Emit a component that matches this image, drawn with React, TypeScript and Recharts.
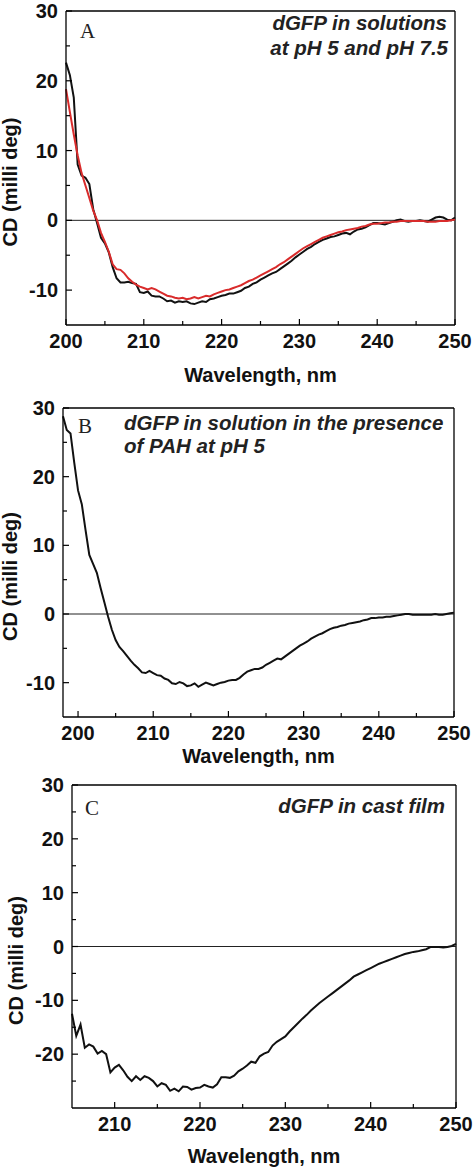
import React from 'react';
import { LineChart, Line, XAxis, YAxis, ReferenceLine, Label } from 'recharts';

// wavelengths (nm)
const wlA = [
  200, 200.5, 201, 201.5, 202, 202.5, 203, 203.5, 204, 204.5,
  205, 205.5, 206, 206.5, 207, 207.5, 208, 208.5, 209, 209.5,
  210, 210.5, 211, 211.5, 212, 212.5, 213, 213.5, 214, 214.5,
  215, 215.5, 216, 216.5, 217, 217.5, 218, 218.5, 219, 219.5,
  220, 220.5, 221, 221.5, 222, 222.5, 223, 223.5, 224, 224.5,
  225, 225.5, 226, 226.5, 227, 227.5, 228, 228.5, 229, 229.5,
  230, 230.5, 231, 231.5, 232, 232.5, 233, 233.5, 234, 234.5,
  235, 235.5, 236, 236.5, 237, 237.5, 238, 238.5, 239, 239.5,
  240, 240.5, 241, 241.5, 242, 242.5, 243, 243.5, 244, 244.5,
  245, 245.5, 246, 246.5, 247, 247.5, 248, 248.5, 249, 249.5,
  250,
];

// panel A, pH 5 (black)
const cdPH5 = [
  22.6, 20.8, 17.6, 8.0, 6.4, 6.1, 5.2, 1.6, -0.4, -2.5,
  -3.3, -4.6, -6.7, -8.3, -8.9, -8.9, -8.8, -9.0, -9.1, -10.3,
  -10.4, -10.2, -10.8, -10.9, -10.9, -11.2, -11.6, -11.5, -11.8, -11.6,
  -11.7, -11.6, -11.9, -12.0, -11.8, -11.6, -11.7, -11.3, -11.2, -11.0,
  -10.8, -10.7, -10.5, -10.5, -10.3, -10.1, -9.7, -9.5, -9.1, -8.9,
  -8.5, -8.2, -7.9, -7.6, -7.4, -7.0, -6.6, -6.2, -5.8, -5.3,
  -4.9, -4.5, -4.1, -3.8, -3.4, -3.1, -2.8, -2.6, -2.4, -2.3,
  -2.1, -1.9, -1.8, -2.0, -1.6, -1.3, -1.2, -1.0, -0.7, -0.4,
  -0.4, -0.5, -0.6, -0.4, -0.2, 0.0, 0.1, -0.1, -0.2, -0.1,
  -0.1, 0.0, -0.1, -0.2, 0.1, 0.4, 0.5, 0.4, 0.1, 0.0,
  0.4,
];

// panel A, pH 7.5 (red)
const cdPH75 = [
  18.8, 15.5, 12.3, 9.3, 6.8, 5.0, 3.2, 1.4, 0.0, -1.8,
  -3.1, -4.5, -6.3, -7.0, -7.1, -7.6, -8.3, -8.8, -9.2, -9.5,
  -9.7, -9.9, -9.7, -9.9, -10.2, -10.5, -10.8, -10.9, -11.1, -11.2,
  -11.1, -11.3, -11.2, -11.0, -11.2, -11.0, -10.8, -10.9, -10.6, -10.4,
  -10.2, -10.0, -9.9, -9.7, -9.5, -9.3, -9.0, -8.7, -8.5, -8.2,
  -7.9, -7.6, -7.3, -7.0, -6.7, -6.3, -6.0, -5.6, -5.2, -4.8,
  -4.4, -4.0, -3.7, -3.4, -3.1, -2.8, -2.5, -2.3, -2.1, -1.9,
  -1.7, -1.6, -1.4, -1.3, -1.2, -1.1, -0.9, -0.8, -0.6, -0.5,
  -0.5, -0.4, -0.3, -0.3, -0.2, -0.2, -0.1, -0.1, -0.1, -0.1,
  -0.1, -0.1, -0.1, -0.2, -0.2, -0.2, -0.1, -0.1, -0.1, 0.0,
  0.1,
];

const wlB = [
  198, 198.5, 199, 199.5,
  200, 200.5, 201, 201.5, 202, 202.5, 203, 203.5, 204, 204.5,
  205, 205.5, 206, 206.5, 207, 207.5, 208, 208.5, 209, 209.5,
  210, 210.5, 211, 211.5, 212, 212.5, 213, 213.5, 214, 214.5,
  215, 215.5, 216, 216.5, 217, 217.5, 218, 218.5, 219, 219.5,
  220, 220.5, 221, 221.5, 222, 222.5, 223, 223.5, 224, 224.5,
  225, 225.5, 226, 226.5, 227, 227.5, 228, 228.5, 229, 229.5,
  230, 230.5, 231, 231.5, 232, 232.5, 233, 233.5, 234, 234.5,
  235, 235.5, 236, 236.5, 237, 237.5, 238, 238.5, 239, 239.5,
  240, 240.5, 241, 241.5, 242, 242.5, 243, 243.5, 244, 244.5,
  245, 245.5, 246, 246.5, 247, 247.5, 248, 248.5, 249, 249.5,
  250,
];

// panel B, with PAH at pH 5
const cdPAH = [
  28.8, 26.8, 26.3, 22.0,
  18.0, 16.0, 12.2, 8.6, 7.3, 6.0, 3.8, 1.7, -0.4, -2.3,
  -3.8, -4.8, -5.4, -6.1, -6.8, -7.4, -7.9, -8.5, -8.6, -8.3,
  -8.6, -8.9, -9.0, -9.4, -9.6, -10.1, -10.2, -9.9, -10.1, -10.5,
  -10.4, -10.1, -10.6, -10.3, -10.0, -10.2, -10.4, -10.2, -10.0, -9.9,
  -9.7, -9.6, -9.6, -9.3, -8.8, -8.4, -8.2, -8.0, -8.0, -7.8,
  -7.4, -7.1, -6.8, -6.5, -6.6, -6.2, -5.8, -5.4, -5.0, -4.6,
  -4.3, -4.0, -3.6, -3.3, -3.0, -2.8, -2.5, -2.2, -2.0, -1.9,
  -1.7, -1.6, -1.4, -1.3, -1.2, -1.1, -0.9, -0.8, -0.6, -0.6,
  -0.5, -0.5, -0.4, -0.4, -0.3, -0.2, -0.1, 0.0, 0.0, -0.1,
  -0.1, -0.1, -0.1, -0.1, -0.1, 0.0, -0.1, -0.1, 0.0, 0.1,
  0.2,
];

const wlC = [
  205, 205.5, 206, 206.5, 207, 207.5, 208, 208.5, 209, 209.5,
  210, 210.5, 211, 211.5, 212, 212.5, 213, 213.5, 214, 214.5,
  215, 215.5, 216, 216.5, 217, 217.5, 218, 218.5, 219, 219.5,
  220, 220.5, 221, 221.5, 222, 222.5, 223, 223.5, 224, 224.5,
  225, 225.5, 226, 226.5, 227, 227.5, 228, 228.5, 229, 229.5,
  230, 230.5, 231, 231.5, 232, 232.5, 233, 233.5, 234, 234.5,
  235, 235.5, 236, 236.5, 237, 237.5, 238, 238.5, 239, 239.5,
  240, 240.5, 241, 241.5, 242, 242.5, 243, 243.5, 244, 244.5,
  245, 245.5, 246, 246.5, 247, 247.5, 248, 248.5, 249, 249.5,
  250,
];

// panel C, cast film
const cdFilm = [
  -12.5, -16.6, -14.5, -18.8, -18.2, -18.6, -19.9, -19.4, -20.0, -23.4,
  -22.5, -22.0, -23.0, -24.2, -25.0, -24.1, -24.8, -24.1, -24.4, -25.0,
  -26.0, -25.4, -25.7, -26.8, -26.4, -26.9, -26.0, -26.1, -26.6, -26.3,
  -26.2, -25.7, -26.0, -26.2, -25.6, -24.3, -24.3, -24.4, -24.0, -23.2,
  -22.7, -22.1, -21.4, -21.6, -20.4, -19.9, -19.6, -18.4, -17.7, -17.2,
  -16.7, -15.8, -15.0, -14.2, -13.4, -12.7, -11.9, -11.2, -10.5, -9.9,
  -9.3, -8.7, -8.1, -7.5, -6.9, -6.3, -5.6, -5.2, -4.8, -4.4,
  -4.0, -3.6, -3.2, -2.9, -2.6, -2.3, -2.0, -1.7, -1.4, -1.2,
  -1.0, -0.9, -0.7, -0.5, -0.1, -0.1, -0.1, -0.2, -0.1, 0.1,
  0.5,
];

const xTicksAB = [200, 205, 210, 215, 220, 225, 230, 235, 240, 245, 250];
const xTicksC = [210, 215, 220, 225, 230, 235, 240, 245, 250];
const yTicksAB = [-10, -5, 0, 5, 10, 15, 20, 25, 30];
const yTicksC = [-25, -20, -15, -10, -5, 0, 5, 10, 15, 20, 25, 30];

const FONT = '"Liberation Sans", Arial, sans-serif';
const SERIF = '"Liberation Serif", "Times New Roman", serif';

const dataA = wlA.map((wl, i) => ({ wl, ph5: cdPH5[i], ph75: cdPH75[i] }));
const dataB = wlB.map((wl, i) => ({ wl, cd: cdPAH[i] }));
const dataC = wlC.map((wl, i) => ({ wl, cd: cdFilm[i] }));

const XTick = ({ x, y, payload }: any) => {
  const major = payload.value % 10 === 0;
  return (
    <g>
      <line x1={x} x2={x} y1={y} y2={y - (major ? 6 : 4)} stroke="#000" strokeWidth={1.2} />
      {major && (
        <text x={x} y={y + 23} textAnchor="middle" fontFamily={FONT} fontWeight="bold" fontSize={20} fill="#111">
          {payload.value}
        </text>
      )}
    </g>
  );
};

const YTick = ({ x, y, payload }: any) => {
  const major = payload.value % 10 === 0;
  return (
    <g>
      <line x1={x} x2={x + (major ? 6 : 4)} y1={y} y2={y} stroke="#000" strokeWidth={1.2} />
      {major && (
        <text x={x - 8} y={y + 7} textAnchor="end" fontFamily={FONT} fontWeight="bold" fontSize={20} fill="#111">
          {payload.value}
        </text>
      )}
    </g>
  );
};

interface PanelProps {
  top: number;
  height: number;
  margin: { top: number; right: number; bottom: number; left: number };
  xAxisHeight: number;
  data: any[];
  xDomain: [number, number];
  xTicks: number[];
  yDomain: [number, number];
  yTicks: number[];
  xTitleDy: number;
  yTitleX: number;
  children: React.ReactNode;
}

const Panel = ({ top, height, margin, xAxisHeight, data, xDomain, xTicks, yDomain, yTicks, xTitleDy, yTitleX, children }: PanelProps) => (
  <div style={{ position: 'absolute', left: 0, top }}>
    <LineChart width={474} height={height} data={data} margin={margin}>
      <XAxis
        dataKey="wl"
        type="number"
        domain={xDomain}
        ticks={xTicks}
        interval={0}
        height={xAxisHeight}
        tickSize={0}
        tickMargin={0}
        tickLine={false}
        axisLine={{ stroke: '#000', strokeWidth: 1.3 }}
        tick={<XTick />}
      >
        <Label
          content={({ viewBox }: any) => (
            <text
              x={viewBox.x + viewBox.width / 2}
              y={viewBox.y + xTitleDy}
              textAnchor="middle"
              fontFamily={FONT}
              fontWeight="bold"
              fontSize={20}
              fill="#111"
            >
              Wavelength, nm
            </text>
          )}
        />
      </XAxis>
      <YAxis
        type="number"
        domain={yDomain}
        ticks={yTicks}
        interval={0}
        width={56}
        tickSize={0}
        tickMargin={0}
        tickLine={false}
        axisLine={{ stroke: '#000', strokeWidth: 1.3 }}
        tick={<YTick />}
      >
        <Label
          content={({ viewBox }: any) => {
            const cy = viewBox.y + viewBox.height / 2 + 14;
            return (
              <text
                x={yTitleX}
                y={cy}
                transform={`rotate(-90 ${yTitleX} ${cy})`}
                textAnchor="middle"
                fontFamily={FONT}
                fontWeight="bold"
                fontSize={20}
                fill="#111"
              >
                CD (milli deg)
              </text>
            );
          }}
        />
      </YAxis>
      <ReferenceLine y={yDomain[1]} stroke="#000" strokeWidth={1.3} />
      <ReferenceLine x={xDomain[1]} stroke="#000" strokeWidth={1.3} />
      <ReferenceLine y={0} stroke="#222" strokeWidth={1} />
      {children}
    </LineChart>
  </div>
);

const noteStyle = { fontFamily: FONT, fontWeight: 'bold' as const, fontStyle: 'italic' as const, fontSize: 20.5, fill: '#222' };
const letterStyle = { fontFamily: SERIF, fontSize: 21, fill: '#222' };

export default function App() {
  return (
    <div style={{ position: 'absolute', left: 0, top: 0, width: 474, height: 1173, background: '#fff' }}>
      <Panel
        top={0}
        height={392}
        margin={{ top: 11, right: 19, bottom: 7, left: 10 }}
        xAxisHeight={60}
        data={dataA}
        xDomain={[200, 250]}
        xTicks={xTicksAB}
        yDomain={[-15, 30]}
        yTicks={yTicksAB}
        xTitleDy={57}
        yTitleX={17}
      >
        <Line dataKey="ph5" type="linear" stroke="#111" strokeWidth={2} dot={false} isAnimationActive={false} />
        <Line dataKey="ph75" type="linear" stroke="#d92b2b" strokeWidth={2} dot={false} isAnimationActive={false} />
      </Panel>
      <Panel
        top={392}
        height={378}
        margin={{ top: 16, right: 20, bottom: 3, left: 7 }}
        xAxisHeight={50}
        data={dataB}
        xDomain={[198, 250]}
        xTicks={xTicksAB}
        yDomain={[-15, 30]}
        yTicks={yTicksAB}
        xTitleDy={46}
        yTitleX={17}
      >
        <Line dataKey="cd" type="linear" stroke="#111" strokeWidth={2} dot={false} isAnimationActive={false} />
      </Panel>
      <Panel
        top={770}
        height={403}
        margin={{ top: 15, right: 18, bottom: 5, left: 16 }}
        xAxisHeight={60}
        data={dataC}
        xDomain={[205, 250]}
        xTicks={xTicksC}
        yDomain={[-30, 30]}
        yTicks={yTicksC}
        xTitleDy={55}
        yTitleX={23}
      >
        <Line dataKey="cd" type="linear" stroke="#111" strokeWidth={2} dot={false} isAnimationActive={false} />
      </Panel>
      <svg width={474} height={1173} style={{ position: 'absolute', left: 0, top: 0, pointerEvents: 'none' }}>
        <text x={80} y={38} {...letterStyle}>A</text>
        <text x={447} y={30} textAnchor="end" {...noteStyle}>dGFP in solutions</text>
        <text x={448} y={55} textAnchor="end" {...noteStyle}>at pH 5 and pH 7.5</text>
        <text x={78} y={433} {...letterStyle}>B</text>
        <text x={124} y={430} {...noteStyle}>dGFP in solution in the presence</text>
        <text x={124} y={453} {...noteStyle}>of PAH at pH 5</text>
        <text x={85} y={815} {...letterStyle}>C</text>
        <text x={445} y={813} textAnchor="end" {...noteStyle}>dGFP in cast film</text>
      </svg>
    </div>
  );
}
